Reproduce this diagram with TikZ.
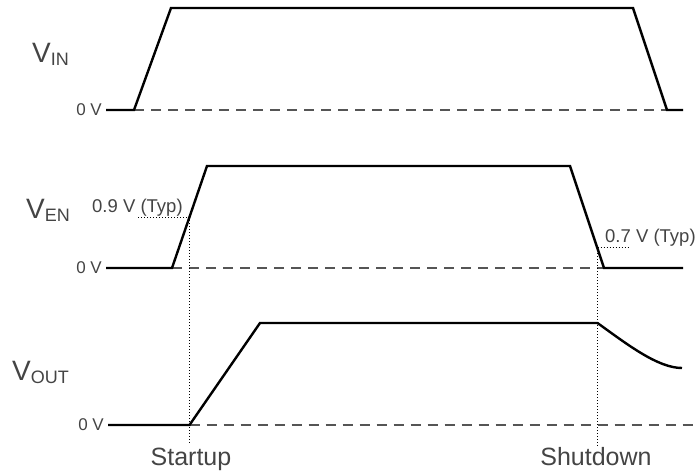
\documentclass[tikz,border=0pt]{standalone}
\usepackage{fontspec}
\setmainfont{Liberation Sans}
\definecolor{txt}{HTML}{444444}
\definecolor{dashc}{HTML}{555555}
\begin{document}
\begin{tikzpicture}[x=1pt,y=-1pt,
  sig/.style={line width=2.4pt,black,line join=miter},
  zero/.style={line width=1.8pt,dashc,dash pattern=on 10pt off 7pt},
  guide/.style={line width=1pt,black,dotted},
  lbl/.style={inner sep=0pt,text=txt,font=\fontsize{28}{30}\selectfont},
  zv/.style={inner sep=0pt,text=txt,font=\fontsize{17}{19}\selectfont,anchor=east},
  thr/.style={inner sep=0pt,text=txt,font=\fontsize{18.5}{20}\selectfont,anchor=base west},
  ev/.style={inner sep=0pt,text=txt,font=\fontsize{25}{27}\selectfont,anchor=base}]
\useasboundingbox (0,0) rectangle (697,472);
\newcommand{\subsc}[1]{\raisebox{-3.5pt}{\fontsize{18}{20}\selectfont #1}}
% ---- V_IN
\coordinate (i0) at (106,110);
\coordinate (i1) at (134,110);
\coordinate (i2) at (171,8);
\coordinate (i3) at (633,8);
\coordinate (i4) at (667,110);
\coordinate (i5) at (683,110);
\draw[zero] (i1) -- (i4);
\draw[sig] (i0) -- (i1) -- (i2) -- (i3) -- (i4) -- (i5);
\node[lbl,anchor=base west] (lin) at (32,62) {V\subsc{IN}};
\node[zv] (zin) at (102,110) {0 V};
% ---- V_EN
\coordinate (e0) at (106,268);
\coordinate (e1) at (172,268);
\coordinate (e2) at (207,166);
\coordinate (e3) at (570,166);
\coordinate (e4) at (604,268);
\coordinate (e5) at (683,268);
\draw[zero] (e1) -- (e4);
\draw[sig] (e0) -- (e1) -- (e2) -- (e3) -- (e4) -- (e5);
\node[lbl,anchor=base west] (len) at (26,218) {V\subsc{EN}};
\node[zv] (zen) at (102,268) {0 V};
% thresholds
\coordinate (t9) at (189.5,217);
\coordinate (t9l) at (138,217);
\coordinate (t7) at (597.5,247);
\coordinate (t7r) at (630,247);
\draw[guide] (t9l) -- (t9);
\draw[guide] (t7) -- (t7r);
\node[thr] (l9) at (92,212) {0.9 V (Typ)};
\node[thr] (l7) at (605,242) {0.7 V (Typ)};
% ---- V_OUT
\coordinate (o0) at (108,425);
\coordinate (o1) at (189.5,425);
\coordinate (o2) at (260,323);
\coordinate (o3) at (597.5,323);
\coordinate (o4) at (682,368);
\coordinate (o5) at (697,425);
\draw[zero] (o1) -- (o5);
\draw[sig] (o0) -- (o1) -- (o2) -- (o3) .. controls (628,345) and (658,368) .. (o4);
\node[lbl,anchor=base west] (lout) at (12,380) {V\subsc{OUT}};
\node[zv] (zout) at (104,425) {0 V};
% event lines
\coordinate (sb) at (189.5,443);
\coordinate (hb) at (597.5,447);
\draw[guide] (t9) -- (sb);
\draw[guide] (t7) -- (hb);
\node[ev] (st) at (191,465) {Startup};
\node[ev] (sh) at (596,465) {Shutdown};
\end{tikzpicture}
\end{document}
